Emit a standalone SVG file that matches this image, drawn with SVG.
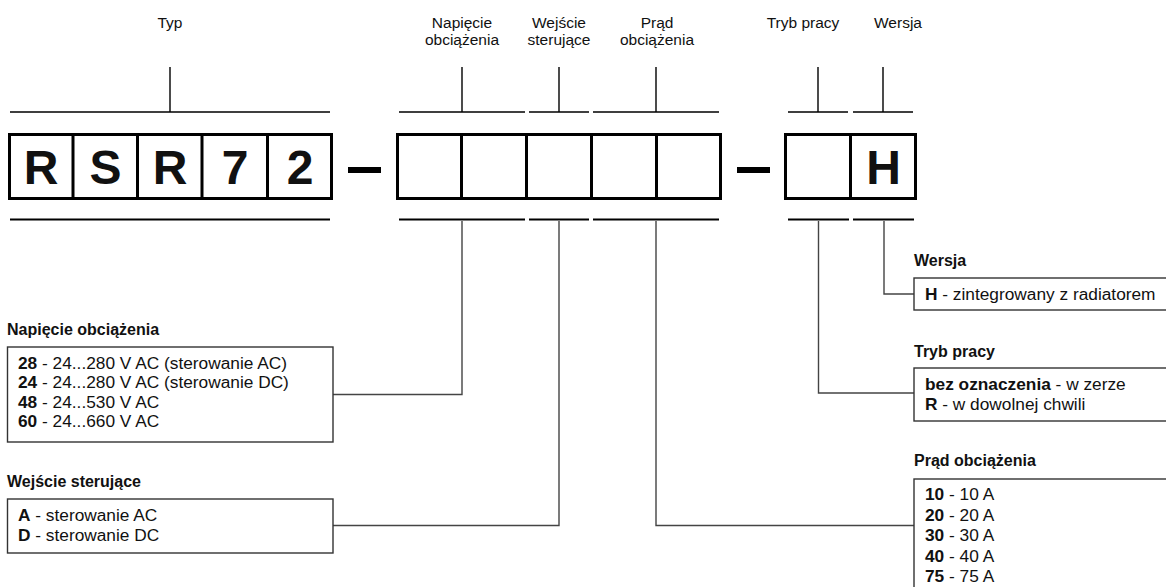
<svg xmlns="http://www.w3.org/2000/svg" width="1166" height="587" viewBox="0 0 1166 587">
<style>
text{font-family:"Liberation Sans",Arial,Helvetica,sans-serif;fill:#111}
.lbl{font-size:15.5px;text-anchor:middle}
.big{font-size:48px;font-weight:bold;text-anchor:middle}
.ttl{font-size:16px;font-weight:bold}
.opt{font-size:17.3px}
.b{font-weight:bold}
.code{fill:#fff;stroke:#000;stroke-width:3}
.div{stroke:#000;stroke-width:3}
.dash{fill:#000}
.tick{stroke:#000;stroke-width:1.4;fill:none}
.brk{stroke:#000;stroke-width:2;fill:none}
.box{fill:#fff;stroke:#333;stroke-width:1.4}
.conn{stroke:#444;stroke-width:1.4;fill:none}
</style>
<rect width="1166" height="587" fill="#fff"/>

<g id="connectors">
<path class="conn" d="M462,221 V394.5 H333"/>
<path class="conn" d="M559,221 V525.5 H333"/>
<path class="conn" d="M656,221 V525.5 H914"/>
<path class="conn" d="M818.5,221 V393 H914"/>
<path class="conn" d="M884,221 V294 H914"/>
</g>

<g id="typ">
<text class="lbl" x="170" y="28">Typ</text>
<path class="tick" d="M170,67 V112 M10,112 H330"/>
<rect class="code" x="9.5" y="134.5" width="322" height="64"/>
<path class="div" d="M73,134.5 V198.5 M137.5,134.5 V198.5 M202,134.5 V198.5 M267.5,134.5 V198.5"/>
<text class="big" x="41" y="184">R</text>
<text class="big" x="105.5" y="184">S</text>
<text class="big" x="170" y="184">R</text>
<text class="big" x="235" y="184">7</text>
<text class="big" x="300" y="184">2</text>
<path class="brk" d="M10,219.5 H330"/>
</g>

<rect class="dash" x="348" y="167" width="33" height="6"/>
<rect class="dash" x="737" y="167" width="33" height="6"/>

<g id="kod-srodek">
<rect class="code" x="397.5" y="134.5" width="323" height="64"/>
<path class="div" d="M461.5,134.5 V198.5 M526.5,134.5 V198.5 M591.5,134.5 V198.5 M656.5,134.5 V198.5"/>
</g>

<g id="kod-koniec">
<rect class="code" x="785.5" y="134.5" width="130" height="64"/>
<path class="div" d="M850.5,134.5 V198.5"/>
<text class="big" x="883.5" y="184">H</text>
</g>

<g id="napiecie">
<text class="lbl" x="462" y="28">Napięcie</text>
<text class="lbl" x="462" y="45">obciążenia</text>
<path class="tick" d="M462,67 V112 M399,112 H525"/>
<path class="brk" d="M399,219.5 H525"/>
<text class="ttl" x="7" y="335">Napięcie obciążenia</text>
<rect class="box" x="7.5" y="347" width="325.5" height="95"/>
<text class="opt" x="18" y="368.5"><tspan class="b">28</tspan> - 24...280 V AC (sterowanie AC)</text>
<text class="opt" x="18" y="388.1"><tspan class="b">24</tspan> - 24...280 V AC (sterowanie DC)</text>
<text class="opt" x="18" y="407.7"><tspan class="b">48</tspan> - 24...530 V AC</text>
<text class="opt" x="18" y="427.3"><tspan class="b">60</tspan> - 24...660 V AC</text>
</g>

<g id="wejscie">
<text class="lbl" x="559" y="28">Wejście</text>
<text class="lbl" x="559" y="45">sterujące</text>
<path class="tick" d="M559,67 V112 M529,112 H589"/>
<path class="brk" d="M529,219.5 H589"/>
<text class="ttl" x="7" y="487">Wejście sterujące</text>
<rect class="box" x="7.5" y="499" width="325.5" height="54"/>
<text class="opt" x="18" y="521"><tspan class="b">A</tspan> - sterowanie AC</text>
<text class="opt" x="18" y="541"><tspan class="b">D</tspan> - sterowanie DC</text>
</g>

<g id="prad">
<text class="lbl" x="657" y="28">Prąd</text>
<text class="lbl" x="657" y="45">obciążenia</text>
<path class="tick" d="M656,67 V112 M593,112 H719"/>
<path class="brk" d="M593,219.5 H719"/>
<text class="ttl" x="914" y="466">Prąd obciążenia</text>
<rect class="box" x="914" y="479" width="270" height="130"/>
<text class="opt" x="925" y="500"><tspan class="b">10</tspan> - 10 A</text>
<text class="opt" x="925" y="520.5"><tspan class="b">20</tspan> - 20 A</text>
<text class="opt" x="925" y="541"><tspan class="b">30</tspan> - 30 A</text>
<text class="opt" x="925" y="561.5"><tspan class="b">40</tspan> - 40 A</text>
<text class="opt" x="925" y="582"><tspan class="b">75</tspan> - 75 A</text>
</g>

<g id="tryb">
<text class="lbl" x="803" y="28">Tryb pracy</text>
<path class="tick" d="M818,67 V112 M788,112 H848"/>
<path class="brk" d="M788,219.5 H849"/>
<text class="ttl" x="914" y="357">Tryb pracy</text>
<rect class="box" x="914" y="368" width="270" height="53"/>
<text class="opt" x="925" y="389.5"><tspan class="b">bez oznaczenia</tspan> - w zerze</text>
<text class="opt" x="925" y="409.5"><tspan class="b">R</tspan> - w dowolnej chwili</text>
</g>

<g id="wersja">
<text class="lbl" x="898" y="28">Wersja</text>
<path class="tick" d="M883,67 V112 M853,112 H913"/>
<path class="brk" d="M853,219.5 H914"/>
<text class="ttl" x="914" y="266">Wersja</text>
<rect class="box" x="914" y="278" width="270" height="32"/>
<text class="opt" x="925" y="300"><tspan class="b">H</tspan> - zintegrowany z radiatorem</text>
</g>
</svg>
